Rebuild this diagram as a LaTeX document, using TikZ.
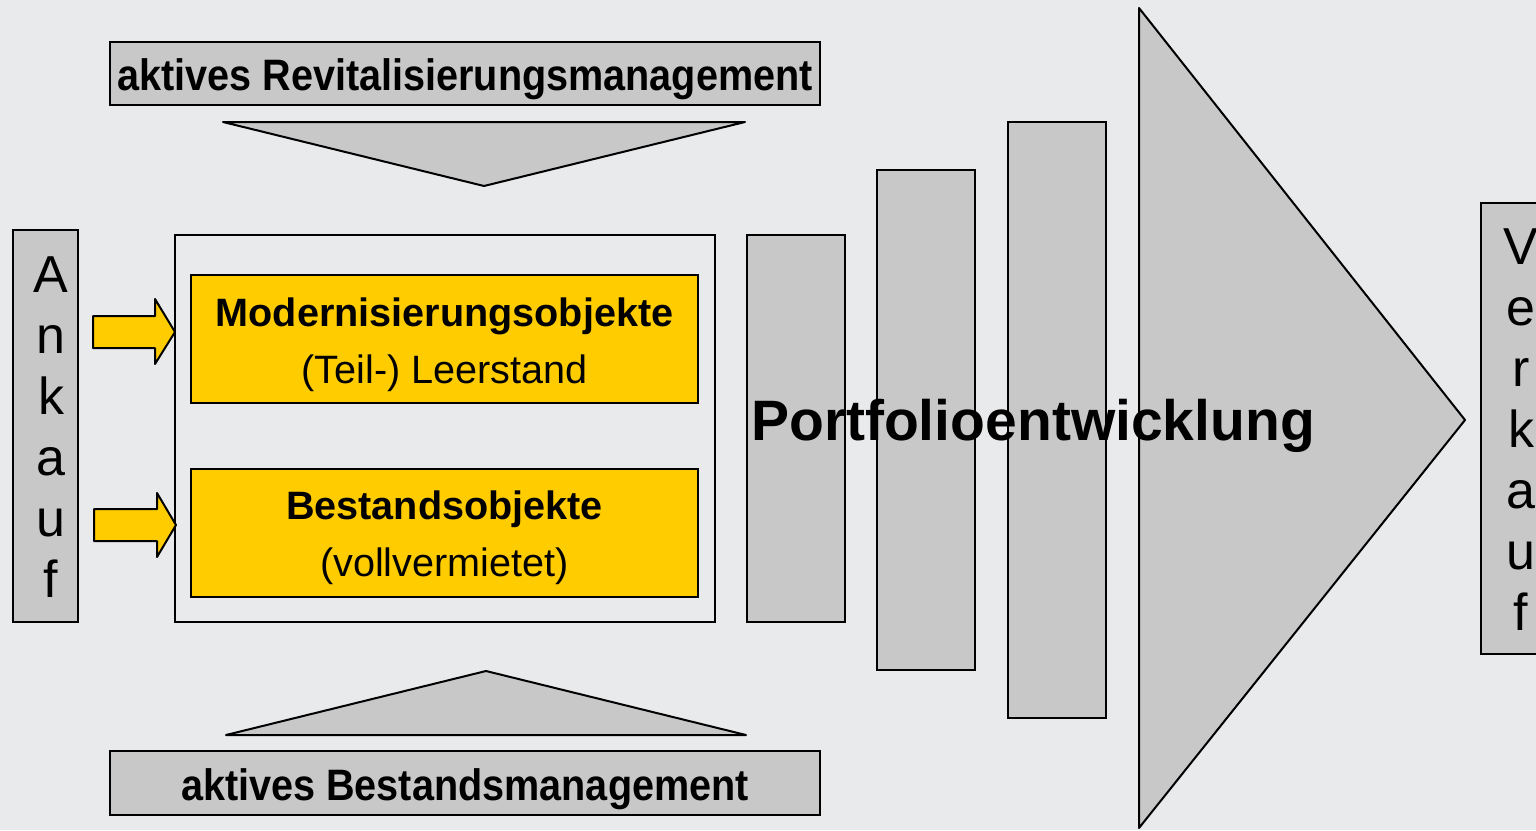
\documentclass[tikz,border=0pt]{standalone}
\usepackage{fontspec}
\setmainfont{Liberation Sans}
\newfontfamily\condfont[FakeStretch=0.9]{Liberation Sans}
\definecolor{bg}{RGB}{233,234,236}
\definecolor{shade}{RGB}{200,200,200}
\definecolor{gold}{RGB}{255,204,0}
\begin{document}
\begin{tikzpicture}[x=0.5pt,y=-0.5pt,line width=1pt,line join=miter,
  graybox/.style={draw=black,fill=shade,rectangle,inner sep=0pt,outer sep=0pt},
  goldbox/.style={draw=black,fill=gold,rectangle,inner sep=0pt,outer sep=0pt},
  framebox/.style={draw=black,rectangle,inner sep=0pt,outer sep=0pt},
  graytri/.style={draw=black,fill=shade,line join=round},
  goldarrow/.style={draw=black,fill=gold,line join=round},
  mgmt/.style={font=\condfont\bfseries\fontsize{22}{26}\selectfont,anchor=base,inner sep=0pt},
  boldlbl/.style={font=\bfseries\fontsize{19.8}{24}\selectfont,anchor=base,inner sep=0pt},
  plainlbl/.style={font=\fontsize{19.8}{24}\selectfont,anchor=base,inner sep=0pt},
  stacklbl/.style={font=\fontsize{26}{30.5}\selectfont,align=center,inner sep=0pt}]
\fill[bg] (0,0) rectangle (1536,830);
\useasboundingbox (0,0) rectangle (1536,830);

% top management
\node[graybox,minimum width=355pt,minimum height=31.5pt] (topbox) at (465,73.5) {};
\node[mgmt] (toptext) at (465,90) {aktives Revitalisierungsmanagement};
\draw[graytri] (223,122) -- (745,122) -- (484,186) -- cycle;

% bottom management
\draw[graytri] (226,735) -- (746,735) -- (486,671) -- cycle;
\node[graybox,minimum width=355pt,minimum height=32pt] (botbox) at (465,783) {};
\node[mgmt] (bottext) at (465,800) {aktives Bestandsmanagement};

% Ankauf
\node[graybox,minimum width=32.5pt,minimum height=196pt] (ankauf) at (45.5,426) {};
\node[stacklbl] (ankauftext) at (51,427) {A\\n\\k\\a\\u\\f};

% frame and objects
\node[framebox,minimum width=270pt,minimum height=193.5pt] (frame) at (445,428.5) {};
\node[goldbox,minimum width=253.5pt,minimum height=64pt] (mod) at (444.5,339) {};
\node[boldlbl] (modA) at (444.5,326) {Modernisierungsobjekte};
\node[plainlbl] (modB) at (444.5,383) {(Teil-) Leerstand};
\node[goldbox,minimum width=253.5pt,minimum height=64pt] (best) at (444.5,533) {};
\node[boldlbl] (bestA) at (444.5,519) {Bestandsobjekte};
\node[plainlbl] (bestB) at (444.5,576) {(vollvermietet)};

% yellow arrows
\draw[goldarrow] (93,316) -- (155,316) -- (155,299) -- (175,332) -- (155,364) -- (155,348) -- (93,348) -- cycle;
\draw[goldarrow] (94,509) -- (157,509) -- (157,493) -- (176,525) -- (157,557) -- (157,541) -- (94,541) -- cycle;

% portfolio development
\node[graybox,minimum width=49pt,minimum height=193.5pt] (r1) at (796,428.5) {};
\node[graybox,minimum width=49pt,minimum height=250pt] (r2) at (926,420) {};
\node[graybox,minimum width=49pt,minimum height=298pt] (r3) at (1057,420) {};
\draw[graytri] (1139,8) -- (1465,420) -- (1139,828) -- cycle;
\node[font=\bfseries\fontsize{28.5}{34}\selectfont,anchor=base,inner sep=0pt] (portfolio) at (1033,440) {Portfolioentwicklung};

% Verkauf
\node[graybox,minimum width=39.5pt,minimum height=225.5pt] (verkauf) at (1520.5,428.5) {};
\node[stacklbl] (verkauftext) at (1521,430) {V\\e\\r\\k\\a\\u\\f};
\end{tikzpicture}
\end{document}
